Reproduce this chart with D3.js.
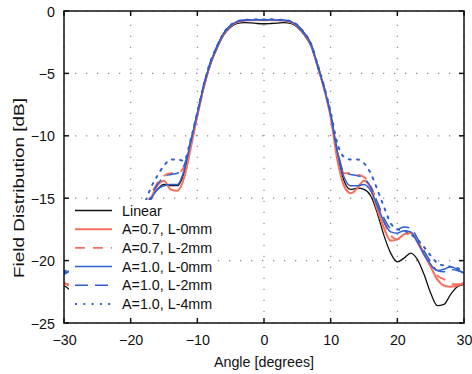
<!DOCTYPE html>
<html><head><meta charset="utf-8">
<script src="https://cdn.jsdelivr.net/npm/d3@7/dist/d3.min.js"></script>
<style>body{margin:0;background:#fff}text{font-family:"Liberation Sans",Arial,sans-serif}</style>
</head><body><svg id="c" width="472" height="374"></svg>
<script>
const angles = d3.range(-30, 31, 1);
const xTicks = [-30,-20,-10,0,10,20,30];
const yTicks = [0,-5,-10,-15,-20,-25];
const seriesNames = ["Linear","A=0.7, L-0mm","A=0.7, L-2mm","A=1.0, L-0mm","A=1.0, L-2mm","A=1.0, L-4mm"];
// values at angles -30..30 (1 degree step)
const linear = [-22.0,-22.4,-22.9,-23.3,-23.0,-22.0,-20.8,-20.0,-19.8,-20.0,-19.6,-18.4,-16.8,-15.1,-14.3,-13.9,-14.0,-14.0,-13.0,-10.7,
 -8.4,-6.1,-4.25,-2.95,-1.9,-1.3,-1.0,-0.93,-0.95,-1.0,-1.02,-1.0,-0.97,-0.93,-1.0,-1.3,-1.9,-2.75,-4.4,-6.2,-8.45,
 -11.5,-13.6,-14.3,-14.2,-14.3,-14.8,-16.2,-18.0,-19.4,-20.1,-19.8,-19.4,-19.9,-21.1,-22.6,-23.6,-23.5,-22.7,-22.1,-21.9];
const a07L0 = [-21.8,-22.0,-21.9,-21.6,-21.0,-20.2,-19.3,-18.5,-18.0,-18.2,-18.4,-17.8,-16.5,-15.1,-14.0,-13.6,-14.3,-14.4,-13.4,-11.0,
 -8.4,-6.0,-4.15,-2.85,-1.8,-1.2,-0.88,-0.78,-0.74,-0.72,-0.74,-0.72,-0.74,-0.78,-0.88,-1.2,-1.8,-2.65,-4.35,-6.2,-8.5,
 -11.9,-14.0,-14.6,-14.2,-13.6,-14.2,-15.9,-17.4,-18.4,-18.3,-17.9,-17.75,-18.5,-19.5,-20.5,-21.5,-22.0,-22.1,-22.0,-21.8];
const a07L2 = [-21.8,-21.9,-21.6,-21.3,-20.8,-20.0,-19.1,-18.3,-17.9,-18.0,-18.2,-17.5,-16.2,-14.8,-13.8,-13.2,-13.0,-13.0,-12.5,-10.6,
 -8.3,-6.0,-4.1,-2.8,-1.78,-1.18,-0.86,-0.76,-0.73,-0.71,-0.73,-0.71,-0.73,-0.76,-0.86,-1.18,-1.78,-2.62,-4.3,-6.15,-8.4,
 -11.2,-13.0,-13.0,-13.1,-13.3,-14.0,-15.4,-16.9,-18.0,-18.3,-18.0,-17.8,-18.4,-19.4,-20.4,-21.2,-21.5,-21.9,-21.9,-21.8];
const a10L0 = [-21.1,-20.8,-20.5,-20.6,-20.7,-20.3,-19.5,-18.5,-17.7,-17.5,-17.6,-17.5,-16.5,-15.1,-14.3,-14.0,-13.9,-13.9,-12.8,-10.5,
 -8.2,-5.9,-4.1,-2.8,-1.75,-1.15,-0.85,-0.75,-0.72,-0.7,-0.72,-0.7,-0.72,-0.75,-0.85,-1.15,-1.75,-2.6,-4.3,-6.1,-8.3,
 -11.3,-13.3,-14.0,-14.0,-13.9,-14.4,-15.6,-16.9,-17.7,-17.8,-17.6,-17.7,-18.5,-19.5,-20.3,-20.8,-20.7,-20.5,-20.7,-21.0];
const a10L2 = [-21.0,-20.8,-20.7,-20.8,-20.8,-20.2,-19.2,-18.2,-17.4,-17.3,-17.5,-17.4,-16.3,-14.9,-13.9,-13.3,-13.1,-13.0,-12.4,-10.4,
 -8.15,-5.85,-4.05,-2.78,-1.74,-1.14,-0.84,-0.74,-0.71,-0.69,-0.71,-0.69,-0.71,-0.74,-0.84,-1.14,-1.74,-2.58,-4.25,-6.05,-8.25,
 -11.1,-12.9,-13.1,-13.2,-13.4,-14.1,-15.3,-16.6,-17.4,-17.5,-17.3,-17.4,-18.2,-19.2,-20.1,-20.8,-20.9,-20.7,-20.8,-21.0];
const a10L4 = [-20.9,-20.6,-20.5,-20.4,-20.2,-19.6,-18.8,-18.2,-17.9,-17.6,-17.5,-17.0,-15.6,-14.2,-13.2,-12.4,-11.9,-11.9,-12.0,-10.3,
 -8.1,-5.8,-4.0,-2.75,-1.72,-1.12,-0.82,-0.72,-0.69,-0.67,-0.69,-0.67,-0.69,-0.72,-0.82,-1.12,-1.72,-2.56,-4.2,-6.0,-8.1,
 -10.6,-11.7,-11.9,-11.9,-12.2,-13.0,-14.3,-15.7,-17.0,-17.5,-17.6,-17.9,-18.3,-18.9,-19.6,-20.2,-20.4,-20.5,-20.6,-20.9];

const series = [
  {name:seriesNames[0], v:linear, color:"#111111", w:1.3, dash:null},
  {name:seriesNames[1], v:a07L0, color:"#f7705e", w:2.1, dash:null},
  {name:seriesNames[2], v:a07L2, color:"#f7705e", w:1.9, dash:"10,8"},
  {name:seriesNames[3], v:a10L0, color:"#2f5fce", w:1.5, dash:null},
  {name:seriesNames[4], v:a10L2, color:"#2f5fce", w:1.5, dash:"13,7"},
  {name:seriesNames[5], v:a10L4, color:"#2f5fce", w:2.0, dash:"2,6.3"}
];

const svg = d3.select("#c");
const L=64, R=464, T=11, B=323;
const x = d3.scaleLinear().domain([-30,30]).range([L,R]);
const y = d3.scaleLinear().domain([-25,0]).range([B,T]);

const defs = svg.append("defs");
defs.append("clipPath").attr("id","clip").append("rect").attr("x",L).attr("y",T).attr("width",R-L).attr("height",B-T);

// grid
const grid = svg.append("g").attr("stroke","#8a8a8a").attr("stroke-width",1.2).attr("stroke-dasharray","1.3,9.7");
xTicks.forEach(t=>grid.append("line").attr("x1",x(t)).attr("x2",x(t)).attr("y1",B).attr("y2",T));
yTicks.forEach(t=>grid.append("line").attr("x1",L).attr("x2",R).attr("y1",y(t)).attr("y2",y(t)));

const line = d3.line().x((d,i)=>x(angles[i])).y(d=>y(d)).curve(d3.curveMonotoneX);
const cg = svg.append("g").attr("clip-path","url(#clip)");
series.forEach(s=>{
  cg.append("path").attr("d",line(s.v)).attr("fill","none").attr("stroke",s.color)
    .attr("stroke-width",s.w).attr("stroke-dasharray",s.dash).attr("stroke-linecap",s.dash&&s.dash.startsWith("2")?"round":"butt");
});

// legend
const lg = svg.append("g");
lg.append("rect").attr("x",69).attr("y",200).attr("width",146).attr("height",B-200-1).attr("fill","#fff");
series.forEach((s,i)=>{
  const yy = 210.5 + i*18.7;
  lg.append("line").attr("x1",75).attr("x2",112).attr("y1",yy).attr("y2",yy).attr("stroke",s.color)
    .attr("stroke-width",s.w).attr("stroke-dasharray",s.dash);
  lg.append("text").attr("x",122).attr("y",yy).attr("dy","0.36em").attr("font-size",14.3).attr("fill","#111").text(s.name);
});

// axes (box with inward ticks)
const ax = svg.append("g").attr("stroke","#111").attr("stroke-width",1.5).attr("fill","none");
ax.append("rect").attr("x",L).attr("y",T).attr("width",R-L).attr("height",B-T);
xTicks.forEach(t=>{
  ax.append("line").attr("x1",x(t)).attr("x2",x(t)).attr("y1",B).attr("y2",B-5);
  ax.append("line").attr("x1",x(t)).attr("x2",x(t)).attr("y1",T).attr("y2",T+5);
});
yTicks.forEach(t=>{
  ax.append("line").attr("x1",L).attr("x2",L+5).attr("y1",y(t)).attr("y2",y(t));
  ax.append("line").attr("x1",R).attr("x2",R-5).attr("y1",y(t)).attr("y2",y(t));
});
const xa = d3.axisBottom(x).tickValues(xTicks).tickSize(0).tickPadding(0);
const gx = svg.append("g").attr("transform",`translate(0,${B})`).call(xa);
gx.select(".domain").remove();
gx.selectAll("text").attr("y",22).attr("dy",0).attr("font-size",14.3).attr("fill","#111").attr("font-family","Liberation Sans, Arial, sans-serif");
const ya = d3.axisLeft(y).tickValues(yTicks).tickSize(0).tickPadding(0);
const gy = svg.append("g").attr("transform",`translate(${L},0)`).call(ya);
gy.select(".domain").remove();
gy.selectAll("text").attr("x",-9).attr("dy","0.36em").attr("font-size",14.3).attr("fill","#111").attr("font-family","Liberation Sans, Arial, sans-serif");

svg.append("text").attr("x",(L+R)/2).attr("y",367).attr("text-anchor","middle").attr("font-size",14.3).attr("fill","#111").text("Angle [degrees]");
svg.append("text").attr("transform",`translate(24,188) rotate(-90)`).attr("text-anchor","middle").attr("font-size",14.5)
  .attr("textLength",180).attr("lengthAdjust","spacingAndGlyphs").attr("fill","#111").text("Field Distribution [dB]");
</script></body></html>
